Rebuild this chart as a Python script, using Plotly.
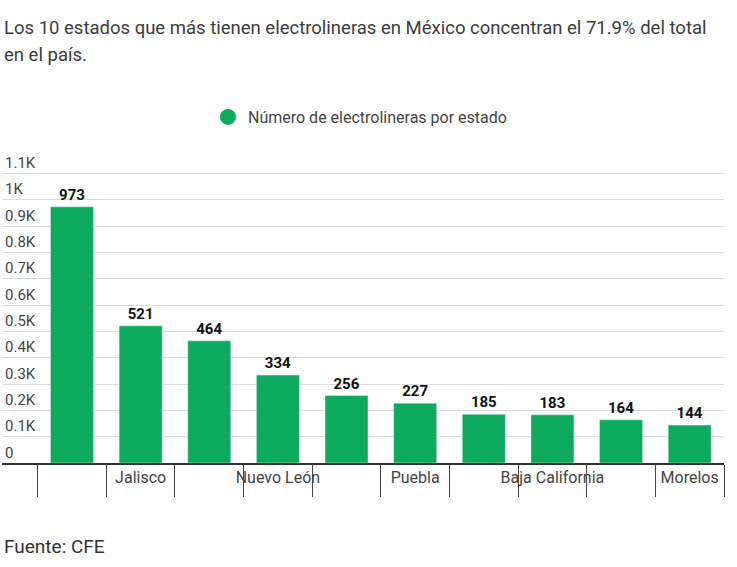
import plotly.graph_objects as go

states = ["Ciudad de México", "Jalisco", "Estado de México", "Nuevo León", "Querétaro",
          "Puebla", "Guanajuato", "Baja California", "Yucatán", "Morelos"]
values = [973, 521, 464, 334, 256, 227, 185, 183, 164, 144]
shown_labels = ["", "Jalisco", "", "Nuevo León", "", "Puebla", "", "Baja California", "", "Morelos"]
y_ticks = [0, 100, 200, 300, 400, 500, 600, 700, 800, 900, 1000, 1100]
y_tick_labels = ["0", "0.1K", "0.2K", "0.3K", "0.4K", "0.5K", "0.6K", "0.7K", "0.8K", "0.9K", "1K", "1.1K"]
series_name = "Número de electrolineras por estado"
title_lines = ["Los 10 estados que más tienen electrolineras en México concentran el 71.9% del total",
               "en el país."]
source = "Fuente: CFE"

GREEN = "#0BAA5C"
FONT = "Roboto"

# geometry: y=0 at 463px, y=1100 at 173px
PX_PER_UNIT = 290 / 1100
Y_TOP = 1200
TOP_MARGIN = 173 - (Y_TOP - 1100) * PX_PER_UNIT
PLOT_H = 463 - TOP_MARGIN

fig = go.Figure()
fig.add_trace(go.Bar(
    x=states, y=values, marker_color=GREEN, showlegend=False,
    texttemplate="%{y}", textposition="outside", cliponaxis=False,
    textfont=dict(family=FONT, size=15, color="#111", weight="bold"),
    hoverinfo="x+y",
))
fig.add_trace(go.Scatter(
    x=[None], y=[None], mode="markers", name=series_name,
    marker=dict(symbol="circle", size=16, color=GREEN),
))

fig.update_layout(
    width=737, height=567,
    margin=dict(l=2, r=13, t=TOP_MARGIN, b=104, autoexpand=False),
    plot_bgcolor="white", paper_bgcolor="white",
    font=dict(family=FONT, color="#444"),
    bargap=0.373,
    legend=dict(orientation="h", x=(360 - 2) / 722, xanchor="center", xref="paper",
                y=1 - 117 / 567, yanchor="middle", yref="container",
                font=dict(family=FONT, size=16, color="#444"), itemsizing="trace"),
    xaxis=dict(
        type="category", range=[-1.02, 9.5], automargin=False, tickangle=0,
        tickmode="array", tickvals=states, ticktext=shown_labels,
        tickson="boundaries", ticks="outside", ticklen=32, tickcolor="#444", tickwidth=1,
        showline=True, linecolor="#333", linewidth=2,
        showgrid=False, ticklabelstandoff=-1,
        tickfont=dict(family=FONT, size=16, color="#444"),
    ),
    yaxis=dict(
        range=[0, Y_TOP], automargin=False, tickmode="array", tickvals=y_ticks, ticktext=y_tick_labels,
        ticklabelposition="inside top", showgrid=True, gridcolor="#dcdcdc", gridwidth=1,
        zeroline=False, showline=False, ticks="",
        tickfont=dict(family=FONT, size=15, color="#444"),
    ),
)

for i, line in enumerate(title_lines):
    fig.add_annotation(text=line, xref="paper", yref="paper", x=0, xanchor="left",
                       y=1 + (TOP_MARGIN - (27 + 28 * i)) / PLOT_H, yanchor="middle", showarrow=False,
                       font=dict(family=FONT, size=18.5, color="#3c3c3c"))
fig.add_annotation(text=source, xref="paper", yref="paper", x=0, xanchor="left",
                   y=-(547 - 463) / PLOT_H, yanchor="middle", showarrow=False,
                   font=dict(family=FONT, size=19, color="#333"))

fig.write_html("out.html", config={"displayModeBar": False},
               post_script="document.body.style.margin='0';")
